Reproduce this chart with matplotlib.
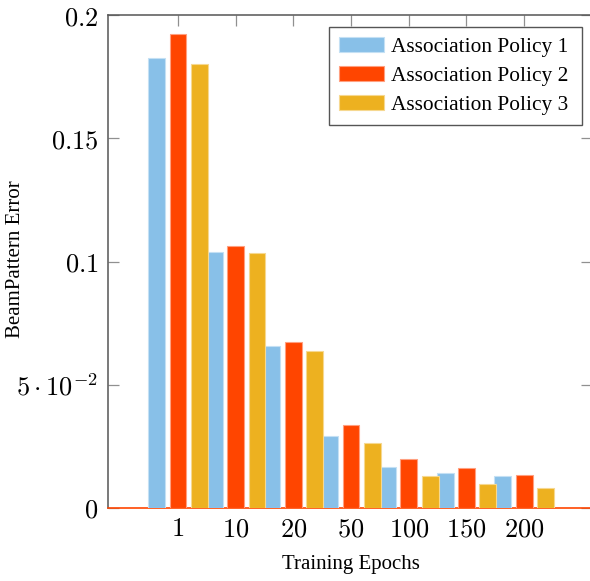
import numpy as np
import matplotlib
matplotlib.use("Agg")
import matplotlib.pyplot as plt

# Data
epochs = ["1", "10", "20", "50", "100", "150", "200"]
policy1 = [0.1826, 0.1039, 0.0657, 0.0293, 0.0166, 0.0141, 0.0129]
policy2 = [0.1923, 0.1063, 0.0673, 0.0337, 0.0199, 0.0161, 0.0135]
policy3 = [0.1801, 0.1034, 0.0637, 0.0262, 0.0131, 0.0096, 0.0081]
series_names = ["Association Policy 1", "Association Policy 2", "Association Policy 3"]

colors = ["#88C0E8", "#FF4500", "#EDB120"]
edges = ["#C4E0F4", "#FFA080", "#F6D890"]

plt.rcParams["mathtext.fontset"] = "cm"
serif = ["Liberation Serif", "DejaVu Serif"]

fig = plt.figure(figsize=(5.9, 5.81), dpi=100)
ax = fig.add_axes([108 / 590, 73 / 581, 484 / 590, 493 / 581])

x = np.arange(len(epochs))
offset = 0.37
width = 0.29
for i, (vals, name) in enumerate(zip([policy1, policy2, policy3], series_names)):
    ax.bar(x + (i - 1) * offset, vals, width, color=colors[i], edgecolor=edges[i],
           linewidth=0.8, label=name, zorder=3)

ax.set_xlim(-1.213, 7.175)
ax.set_ylim(0, 0.2)

ax.set_xticks(x)
ax.set_xticklabels([f"${e}$" for e in epochs], fontsize=19)
ax.set_yticks([0, 0.05, 0.1, 0.15, 0.2])
ax.set_yticklabels(["$0$", r"$5\cdot10^{-2}$", "$0.1$", "$0.15$", "$0.2$"], fontsize=19)

ax.tick_params(axis="y", direction="in", length=8, width=0.9, color="#909090",
               left=True, right=True, pad=7)
ax.tick_params(axis="x", direction="in", length=8, width=0.9, color="#909090",
               bottom=False, top=True, pad=6)

for s in ["left", "top", "right"]:
    ax.spines[s].set_color("#555555")
    ax.spines[s].set_linewidth(1.1)
ax.spines["bottom"].set_color("#FF4500")
ax.spines["bottom"].set_linewidth(1.2)

fig.text(16 / 590, 1 - 259 / 581, "BeamPattern Error", rotation=90,
         ha="center", va="center", fontsize=15, family=serif)
fig.text(351 / 590, 1 - 565 / 581, "Training Epochs",
         ha="center", va="center", fontsize=15, family=serif)

leg = ax.legend(loc="upper left", mode="expand",
                bbox_to_anchor=(329 / 590, 1 - 124 / 581, 253 / 590, 97 / 581),
                bbox_transform=fig.transFigure, borderaxespad=0,
                prop={"family": serif, "size": 15.4}, fancybox=False,
                framealpha=1, edgecolor="#555555", handlelength=2.1,
                handleheight=0.7, handletextpad=0.33, labelspacing=0.43,
                borderpad=0.45)
leg.get_frame().set_linewidth(1.0)

fig.savefig("out.png", dpi=100)
